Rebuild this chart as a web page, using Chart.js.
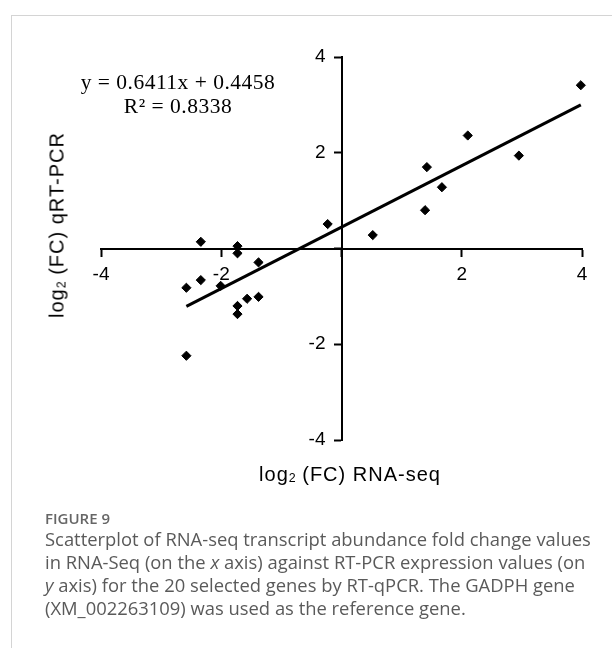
<!DOCTYPE html>
<html>
<head>
<meta charset="utf-8">
<script src="https://cdn.jsdelivr.net/npm/chart.js@4"></script>
<style>
  html, body { margin: 0; padding: 0; background: #fff; }
  #wrap { position: relative; width: 612px; height: 648px; overflow: hidden; }
  #c { position: absolute; left: 0; top: 0; }
  .frameTop { position: absolute; left: 11px; top: 15px; width: 601px; height: 0; border-top: 1.5px solid #d4d4d4; }
  .frameLeft { position: absolute; left: 11px; top: 15px; width: 0; height: 633px; border-left: 1.5px solid #d4d4d4; }
  .ctr { position: absolute; transform: translate(-50%, -50%); white-space: nowrap; }
  .eq { font-family: "Liberation Serif", "Times New Roman", serif; font-size: 21.5px; letter-spacing: 0.5px; color: #000; }
  .atitle { font-family: "Liberation Sans", Arial, sans-serif; font-size: 20px; letter-spacing: 1px; color: #000; }
  .atitle sub { font-size: 0.62em; vertical-align: -0.15em; line-height: 0; letter-spacing: 0; }
  .fig { position: absolute; left: 45px; top: 508px; font-family: "Open Sans", sans-serif; font-weight: 600; font-size: 15px; color: #666; white-space: nowrap; }
  .cap { position: absolute; left: 45px; top: 527px; font-family: "Open Sans", sans-serif; font-size: 18.4px; line-height: 23px; color: #5a5a5a; white-space: nowrap; }
</style>
</head>
<body>
<div id="wrap">
  <div class="frameTop"></div>
  <div class="frameLeft"></div>
  <canvas id="c" width="612" height="648"></canvas>
  <div class="ctr eq" style="left:178px; top:82px;">y = 0.6411x + 0.4458</div>
  <div class="ctr eq" style="left:178px; top:106px;">R² = 0.8338</div>
  <div class="ctr atitle" style="left:350px; top:474px;">log<sub>2</sub> (FC) RNA-seq</div>
  <div class="ctr atitle" style="left:57px; top:225px; transform: translate(-50%, -50%) rotate(-90deg);">log<sub>2</sub> (FC) qRT-PCR</div>
  <div class="fig">FIGURE 9</div>
  <div class="cap">Scatterplot of RNA-seq transcript abundance fold change values<br>in RNA-Seq (on the <i>x</i> axis) against RT-PCR expression values (on<br><i>y</i> axis) for the 20 selected genes by RT-qPCR. The GADPH gene<br>(XM_002263109) was used as the reference gene.</div>
</div>
<script>
// Data
const rnaSeq = [-2.34, -1.73, -1.73, -1.38, -2.34, -2.58, -2.01, -1.38, -1.57, -1.73, -1.73, -2.58, -0.23, 0.52, 1.39, 1.42, 1.67, 2.10, 2.95, 3.98];
const qrtPcr = [0.14, 0.05, -0.10, -0.29, -0.66, -0.82, -0.78, -1.01, -1.05, -1.20, -1.37, -2.24, 0.51, 0.28, 0.80, 1.70, 1.28, 2.36, 1.94, 3.41];
const trendX = [-2.58, 3.98];
const trendY = [-1.21, 3.00];
const xTicks = [-4, -2, 2, 4];
const yTicks = [-4, -2, 2, 4];

const points = rnaSeq.map((x, i) => ({ x: x, y: qrtPcr[i] }));
const trend = trendX.map((x, i) => ({ x: x, y: trendY[i] }));

const tickFont = { family: '"Liberation Sans", Arial, sans-serif', size: 19 };

// Centered y axis: move its labels left of the tick marks (tick length + padding)
function offsetYLabels(scale) {
  if (scale._labelPatched) return;
  const orig = scale._computeLabelItems.bind(scale);
  scale._computeLabelItems = function (ca) {
    const items = orig(ca);
    items.forEach(it => { it.options.translation[0] -= 16; });
    return items;
  };
  scale._labelPatched = true;
}

new Chart(document.getElementById('c'), {
  type: 'scatter',
  data: {
    datasets: [
      {
        label: 'Trend',
        type: 'line',
        data: trend,
        borderColor: '#000',
        borderWidth: 3,
        pointRadius: 0,
        fill: false,
        clip: false,
        order: 2
      },
      {
        label: 'Genes',
        data: points,
        pointStyle: 'rectRot',
        pointRadius: 4.6,
        pointBorderWidth: 1,
        backgroundColor: '#000',
        borderColor: '#000',
        clip: false,
        order: 1
      }
    ]
  },
  options: {
    responsive: false,
    animation: false,
    devicePixelRatio: 1,
    layout: { padding: { left: 101, right: 30, top: 57, bottom: 208 } },
    plugins: { legend: { display: false }, tooltip: { enabled: false } },
    scales: {
      x: {
        type: 'linear',
        min: -4, max: 4,
        position: { y: 0 },
        afterBuildTicks: s => { s.ticks = [-4, -2, 0, 2, 4].map(v => ({ value: v })); },
        ticks: {
          color: '#000',
          font: tickFont,
          padding: 8,
          maxRotation: 0,
          callback: v => (xTicks.includes(v) ? String(v) : '')
        },
        grid: { drawOnChartArea: false, drawTicks: true, tickLength: 7, tickWidth: 2, color: '#000' },
        border: { display: true, color: '#000', width: 2 }
      },
      y: {
        type: 'linear',
        min: -4, max: 4,
        position: { x: 0 },
        afterBuildTicks: s => { s.ticks = [-4, -2, 0, 2, 4].map(v => ({ value: v })); },
        afterFit: offsetYLabels,
        ticks: {
          color: '#000',
          font: tickFont,
          padding: 9,
          callback: v => (yTicks.includes(v) ? String(v) : '')
        },
        grid: { drawOnChartArea: false, drawTicks: true, tickLength: 7, tickWidth: 2, color: '#000' },
        border: { display: true, color: '#000', width: 2 }
      }
    }
  }
});
</script>
</body>
</html>
